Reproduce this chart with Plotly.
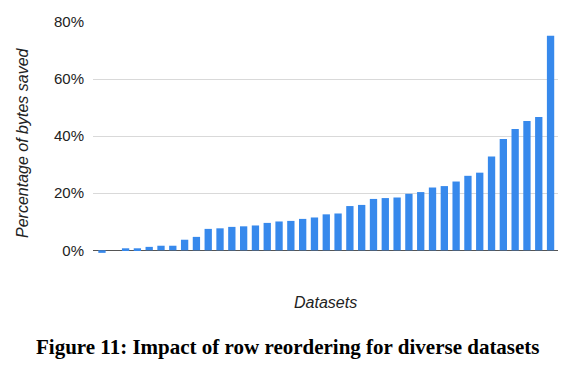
import plotly.graph_objects as go

datasets = [f"D{i+1}" for i in range(39)]
bytes_saved_pct = [
    -0.9, 0.0, 0.7, 0.7, 1.2, 1.6, 1.6, 3.7, 4.7, 7.5,
    7.7, 8.2, 8.4, 8.7, 9.6, 10.1, 10.3, 11.0, 11.5, 12.6,
    12.9, 15.5, 15.9, 18.0, 18.3, 18.5, 19.8, 20.4, 22.0, 22.5,
    24.1, 26.1, 27.2, 32.9, 39.0, 42.5, 45.3, 46.7, 75.2,
]
y_ticks = [0, 20, 40, 60, 80]
y_tick_labels = ["0%", "20%", "40%", "60%", "80%"]

fig = go.Figure()
fig.add_trace(go.Bar(
    x=list(range(len(datasets))),
    y=bytes_saved_pct,
    marker=dict(color="#3789EC", line=dict(width=0)),
    hovertext=datasets,
))

# page body has an 8px default margin, so the figure is sized to fit the remaining window
fig.update_layout(
    width=569, height=358,
    margin=dict(l=85, r=19, t=14, b=110, autoexpand=False),
    paper_bgcolor="white", plot_bgcolor="white",
    bargap=0.38,
    showlegend=False,
    font=dict(family="Liberation Sans, Arial, sans-serif", color="#222222"),
)
fig.update_xaxes(
    range=[-0.76, 38.63], automargin=False,
    showticklabels=False, showgrid=False, zeroline=False, showline=False,
)
fig.update_yaxes(
    range=[-2, 80], automargin=False,
    tickvals=y_ticks, ticktext=y_tick_labels,
    tickfont=dict(size=15, color="#222222"),
    showgrid=True, gridcolor="#D9D9D9", gridwidth=1,
    zeroline=True, zerolinecolor="#555555", zerolinewidth=1,
    ticks="", ticklabelstandoff=8,
)
fig.add_annotation(
    text="<i>Datasets</i>",
    xref="paper", yref="paper", x=0.5, y=0, xanchor="center", yanchor="middle",
    yshift=-46, showarrow=False,
    font=dict(size=16, color="#222222"),
)
fig.add_annotation(
    text="<i>Percentage of bytes saved</i>",
    xref="paper", yref="paper", x=0, y=0.5, xanchor="center", yanchor="middle",
    xshift=-71, yshift=-4, textangle=-90, showarrow=False,
    font=dict(size=16, color="#222222"),
)
fig.add_annotation(
    text="<b>Figure 11: Impact of row reordering for diverse datasets</b>",
    xref="paper", yref="paper", x=0.5, y=0, xanchor="center", yanchor="middle",
    xshift=-38, yshift=-91, showarrow=False,
    font=dict(family="Liberation Serif, Times New Roman, serif", size=21, color="#000000"),
)
fig.write_html("out.html")
